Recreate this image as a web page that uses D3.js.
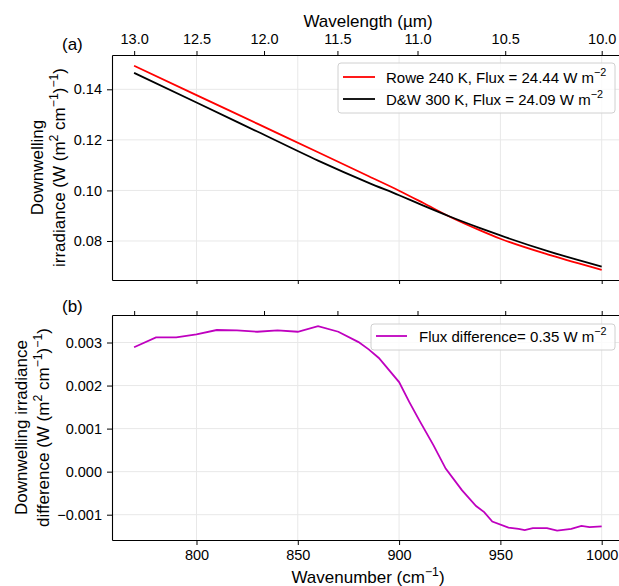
<!DOCTYPE html>
<html>
<head>
<meta charset="utf-8">
<script src="https://cdn.jsdelivr.net/npm/d3@7"></script>
<style>
body { margin: 0; background: #fff; }
text { font-family: "Liberation Sans", Arial, sans-serif; fill: #000; }
</style>
</head>
<body>
<script>
// data
var wnTop = [769.2, 800, 830, 860, 885, 900, 912, 925, 940, 950, 975, 1000],
    rowe = [0.1493, 0.1377, 0.1264, 0.1151, 0.1056, 0.0999, 0.0950, 0.0896, 0.0842, 0.0809, 0.0743, 0.0686],
    dw = [0.1465, 0.1348, 0.1233, 0.1118, 0.1030, 0.0981, 0.0940, 0.0897, 0.0851, 0.0822, 0.0756, 0.0699],
    wnDiff = [769.2, 780, 790, 800, 810, 820, 830, 840, 850, 860, 870, 880, 885, 890, 900, 905, 910, 917, 923, 931, 938, 942, 946, 954, 959, 962, 966, 973, 978, 985, 990, 994, 1000],
    fluxDiff = [0.00289, 0.00312, 0.00312, 0.00319, 0.00329, 0.00328, 0.00325, 0.00328, 0.00325, 0.00338, 0.00325, 0.00301, 0.00284, 0.00264, 0.00208, 0.00162, 0.00119, 0.00061, 0.00007, -0.00043, -0.00080, -0.00094, -0.00116, -0.00130, -0.00133, -0.00136, -0.00131, -0.00131, -0.00137, -0.00133, -0.00126, -0.00129, -0.00127],
    waveTicks = [13.0, 12.5, 12.0, 11.5, 11.0, 10.5, 10.0],
    wnTicks = [800, 850, 900, 950, 1000],
    irrTicks = [0.08, 0.10, 0.12, 0.14],
    diffTicks = [-0.001, 0, 0.001, 0.002, 0.003];

var width = 619, height = 586,
    left = 112, right = 626,
    topA = 55, botA = 280, topB = 315, botB = 540,
    tickFont = 14.5, labelFont = 17, legendFont = 15;

var svg = d3.select("body").append("svg").attr("width", width).attr("height", height);

var x = d3.scaleLinear().domain([758.3, 1012]).range([left, right]);
var yA = d3.scaleLinear().domain([0.06457, 0.15357]).range([botA, topA]);
var yB = d3.scaleLinear().domain([-0.001588, 0.003639]).range([botB, topB]);

var line = function (xs, ys, yScale, curve) {
  return d3.line()
    .curve(curve || d3.curveLinear)
    .x(function (d, i) { return x(xs[i]); })
    .y(function (d) { return yScale(d); })(ys);
};

function grid(yScale, yTicks, y0, y1) {
  var g = svg.append("g").attr("stroke", "#e8e8e8").attr("stroke-width", 1);
  g.selectAll(".gx").data(wnTicks).enter().append("line")
    .attr("x1", function (d) { return x(d); }).attr("x2", function (d) { return x(d); })
    .attr("y1", y0).attr("y2", y1);
  g.selectAll(".gy").data(yTicks).enter().append("line")
    .attr("x1", left).attr("x2", right)
    .attr("y1", function (d) { return yScale(d); }).attr("y2", function (d) { return yScale(d); });
}

function styleAxis(g) {
  g.attr("font-family", null).attr("font-size", null);
  g.select(".domain").attr("stroke", "#000").attr("stroke-width", 1.1);
  g.selectAll(".tick line").attr("stroke", "#000").attr("stroke-width", 1);
  g.selectAll(".tick text").attr("font-size", tickFont).attr("fill", "#000");
}

// rich text with superscripts: parts = [[text, isSup], ...]
function rich(sel, parts, size) {
  var up = false;
  parts.forEach(function (p) {
    var t = sel.append("tspan").text(p[0]);
    if (p[1] && !up) { t.attr("dy", -size * 0.42).attr("font-size", size * 0.72); up = true; }
    else if (p[1]) { t.attr("font-size", size * 0.72); }
    else if (up) { t.attr("dy", size * 0.42); up = false; }
  });
  return sel;
}

var waveTickWn = waveTicks.map(function (w) { return 1e4 / w; });

// ---------- panel (a)
grid(yA, irrTicks, topA, botA);

svg.append("path").attr("d", line(wnTop, rowe, yA, d3.curveMonotoneX))
  .attr("fill", "none").attr("stroke", "#ff0000").attr("stroke-width", 1.8);
svg.append("path").attr("d", line(wnTop, dw, yA, d3.curveMonotoneX))
  .attr("fill", "none").attr("stroke", "#000").attr("stroke-width", 1.8);

svg.append("g").attr("transform", "translate(0," + topA + ")")
  .call(d3.axisTop(x).tickValues(waveTickWn).tickSize(4).tickPadding(7).tickSizeOuter(0)
    .tickFormat(function (d, i) { return d3.format(".1f")(waveTicks[i]); }))
  .call(styleAxis);
svg.append("g").attr("transform", "translate(0," + botA + ")")
  .call(d3.axisBottom(x).tickValues(wnTicks).tickSize(4).tickSizeOuter(0).tickFormat(""))
  .call(styleAxis);
svg.append("g").attr("transform", "translate(" + left + ",0)")
  .call(d3.axisLeft(yA).tickValues(irrTicks).tickSize(5).tickPadding(5).tickSizeOuter(0)
    .tickFormat(d3.format(".2f")))
  .call(styleAxis);

svg.append("text").attr("x", 368).attr("y", 27).attr("text-anchor", "middle")
  .attr("font-size", labelFont).text("Wavelength (\u00b5m)");
svg.append("text").attr("x", 62).attr("y", 50).attr("font-size", labelFont).text("(a)");

var cyA = (topA + botA) / 2;
svg.append("text").attr("transform", "translate(43," + cyA + ") rotate(-90)")
  .attr("text-anchor", "middle").attr("font-size", labelFont).text("Downwelling");
rich(svg.append("text").attr("transform", "translate(65," + cyA + ") rotate(-90)")
  .attr("text-anchor", "middle").attr("font-size", labelFont),
  [["irradiance (W (m"], ["2", 1], [" cm"], ["\u22121", 1], [")"], ["\u22121", 1], [")"]], labelFont);

// legend (a)
var legA = svg.append("g");
legA.append("rect").attr("x", 338).attr("y", 63).attr("width", 277).attr("height", 50)
  .attr("rx", 3).attr("fill", "#fff").attr("fill-opacity", 0.8).attr("stroke", "#d0d0d0");
[["Rowe 240 K, Flux = 24.44 W m", "#ff0000", 77], ["D&W 300 K, Flux = 24.09 W m", "#000", 99]].forEach(function (r) {
  legA.append("line").attr("x1", 343).attr("x2", 375).attr("y1", r[2]).attr("y2", r[2])
    .attr("stroke", r[1]).attr("stroke-width", 1.8);
  rich(legA.append("text").attr("x", 386).attr("y", r[2] + 5.5).attr("font-size", legendFont),
    [[r[0]], ["\u22122", 1]], legendFont);
});

// ---------- panel (b)
grid(yB, diffTicks, topB, botB);

svg.append("path").attr("d", line(wnDiff, fluxDiff, yB))
  .attr("fill", "none").attr("stroke", "#bf00bf").attr("stroke-width", 1.8);

svg.append("g").attr("transform", "translate(0," + topB + ")")
  .call(d3.axisTop(x).tickValues(waveTickWn).tickSize(4).tickSizeOuter(0).tickFormat(""))
  .call(styleAxis);
svg.append("g").attr("transform", "translate(0," + botB + ")")
  .call(d3.axisBottom(x).tickValues(wnTicks).tickSize(5).tickPadding(5).tickSizeOuter(0)
    .tickFormat(d3.format("d")))
  .call(styleAxis);
svg.append("g").attr("transform", "translate(" + left + ",0)")
  .call(d3.axisLeft(yB).tickValues(diffTicks).tickSize(5).tickPadding(5).tickSizeOuter(0)
    .tickFormat(d3.format(".3f")))
  .call(styleAxis);

rich(svg.append("text").attr("x", 368).attr("y", 583).attr("text-anchor", "middle")
  .attr("font-size", labelFont), [["Wavenumber (cm"], ["\u22121", 1], [")"]], labelFont);
svg.append("text").attr("x", 62).attr("y", 312).attr("font-size", labelFont).text("(b)");

var cyB = (topB + botB) / 2;
svg.append("text").attr("transform", "translate(27," + cyB + ") rotate(-90)")
  .attr("text-anchor", "middle").attr("font-size", labelFont).text("Downwelling irradiance");
rich(svg.append("text").attr("transform", "translate(49," + cyB + ") rotate(-90)")
  .attr("text-anchor", "middle").attr("font-size", labelFont),
  [["difference (W (m"], ["2", 1], [" cm"], ["\u22121", 1], [")"], ["\u22121", 1], [")"]], labelFont);

// legend (b)
var legB = svg.append("g");
legB.append("rect").attr("x", 371).attr("y", 324).attr("width", 244).attr("height", 26)
  .attr("rx", 3).attr("fill", "#fff").attr("fill-opacity", 0.8).attr("stroke", "#d0d0d0");
legB.append("line").attr("x1", 376).attr("x2", 407).attr("y1", 336).attr("y2", 336)
  .attr("stroke", "#bf00bf").attr("stroke-width", 1.8);
rich(legB.append("text").attr("x", 419).attr("y", 341.5).attr("font-size", legendFont),
  [["Flux difference= 0.35 W m"], ["\u22122", 1]], legendFont);
</script>
</body>
</html>
